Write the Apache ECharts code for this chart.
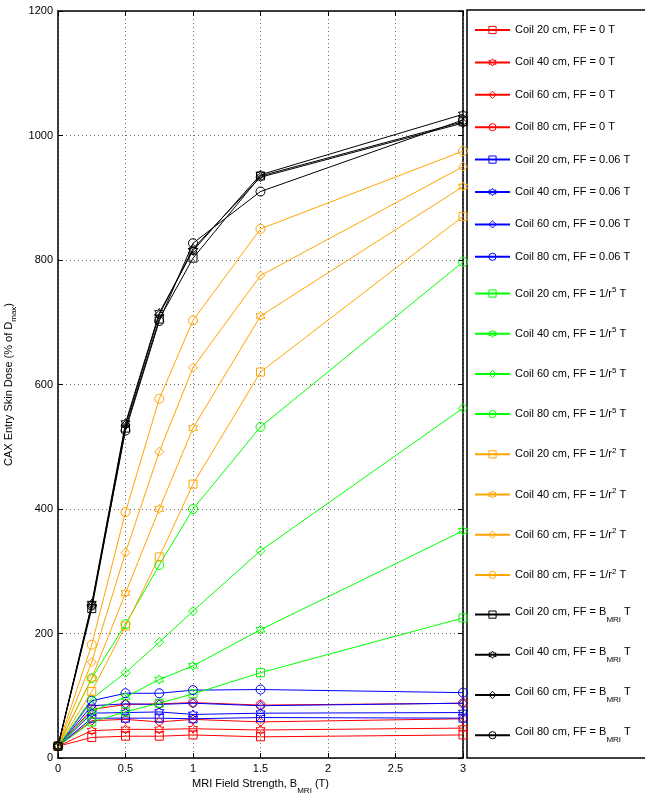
<!DOCTYPE html>
<html>
<head>
<meta charset="utf-8">
<script src="https://cdn.jsdelivr.net/npm/echarts@6/dist/echarts.min.js"></script>
<style>
html,body{margin:0;padding:0;background:#fff;}
#chart{width:645px;height:793px;}
</style>
</head>
<body>
<div id="chart"></div>
<script>
// ---- data ----
const fieldStrength = [0, 0.25, 0.5, 0.75, 1, 1.5, 3];
const xTicks = [0, 0.5, 1, 1.5, 2, 2.5, 3];
const yTicks = [0, 200, 400, 600, 800, 1000, 1200];

const ff0_coil20 = [19, 33, 35, 35, 37, 34, 37];
const ff0_coil40 = [19, 44, 46, 46, 47, 45, 48];
const ff0_coil60 = [19, 60, 62, 58, 62, 58, 63];
const ff0_coil80 = [19, 78, 86, 87, 89, 85, 88];

const ff006_coil20 = [19, 64, 64, 64, 63, 65, 64];
const ff006_coil40 = [19, 72, 73, 74, 70, 72, 73];
const ff006_coil60 = [19, 84, 87, 86, 88, 84, 88];
const ff006_coil80 = [19, 92, 104, 104, 109, 110, 105];

const ffr5_coil20 = [19, 58, 74, 88, 103, 137, 225];
const ffr5_coil40 = [19, 75, 98, 126, 148, 206, 365];
const ffr5_coil60 = [19, 95, 137, 186, 236, 333, 562];
const ffr5_coil80 = [19, 128, 215, 310, 400, 532, 797];

const ffr2_coil20 = [19, 107, 212, 323, 440, 620, 870];
const ffr2_coil40 = [19, 128, 265, 400, 530, 710, 918];
const ffr2_coil60 = [19, 154, 330, 492, 627, 775, 950];
const ffr2_coil80 = [19, 182, 395, 577, 703, 850, 975];

const ffB_coil20 = [19, 240, 530, 705, 803, 935, 1022];
const ffB_coil40 = [19, 248, 538, 715, 815, 937, 1034];
const ffB_coil60 = [19, 245, 535, 712, 818, 933, 1020];
const ffB_coil80 = [19, 245, 526, 702, 827, 910, 1025];

const coilSizes = ['20', '40', '60', '80'];
const ffLabels = ['0', '0.06', '1/r^5', '1/r^2', 'B_MRI'];
const seriesValues = [
  [ff0_coil20, ff0_coil40, ff0_coil60, ff0_coil80],
  [ff006_coil20, ff006_coil40, ff006_coil60, ff006_coil80],
  [ffr5_coil20, ffr5_coil40, ffr5_coil60, ffr5_coil80],
  [ffr2_coil20, ffr2_coil40, ffr2_coil60, ffr2_coil80],
  [ffB_coil20, ffB_coil40, ffB_coil60, ffB_coil80]
];

// ---- styles ----
const colors = ['#ff0000', '#0000ff', '#00ff00', '#ffa500', '#000000'];
const STAR = 'path://M0,-10L2.9,-5L8.66,-5L5.8,0L8.66,5L2.9,5L0,10L-2.9,5L-8.66,5L-5.8,0L-8.66,-5L-2.9,-5Z';
const symbols = ['rect', STAR, 'diamond', 'circle'];
const symbolSizes = [8, 9, 9, 9];
const FONT = 'Liberation Sans, Arial, Helvetica, sans-serif';

const series = [];
ffLabels.forEach((ff, fi) => {
  coilSizes.forEach((c, ci) => {
    series.push({
      name: 'Coil ' + c + ' cm, FF = ' + ff + ' T',
      type: 'line',
      xAxisIndex: 0,
      yAxisIndex: 0,
      data: fieldStrength.map((x, k) => [x, seriesValues[fi][ci][k]]),
      symbol: symbols[ci],
      symbolSize: symbolSizes[ci],
      showAllSymbol: true,
      lineStyle: { color: colors[fi], width: 1 },
      itemStyle: { color: 'rgba(0,0,0,0)', borderColor: colors[fi], borderWidth: 1 },
      emphasis: { disabled: true },
      animation: false
    });
  });
});

function kindOf(name) {
  if (/\^\d/.test(name)) return 'sup';
  if (/_MRI/.test(name)) return 'sub';
  return 'plain';
}
function legendFmt(name) {
  let m = name.match(/^(.*)\^(\d)(.*)$/);
  if (m) return '{p|' + m[1] + '}{sup|' + m[2] + '}{p|' + m[3] + '}';
  m = name.match(/^(.*)_MRI(.*)$/);
  if (m) return '{pb|' + m[1] + '}{sub|MRI}{pb|' + m[2] + '}';
  return '{q|' + name + '}';
}
const legendRich = {
  q: { fontSize: 11, lineHeight: 14, color: '#000', fontFamily: FONT },
  p: { fontSize: 11, lineHeight: 14, color: '#000', fontFamily: FONT },
  sup: { fontSize: 8, lineHeight: 8, padding: [0, 0, 7, 0], color: '#000', fontFamily: FONT },
  pb: { fontSize: 11, lineHeight: 14, color: '#000', fontFamily: FONT, padding: [0, 0, 6, 0] },
  sub: { fontSize: 8, lineHeight: 8, padding: [10, 0, 0, 0], color: '#000', fontFamily: FONT }
};
// legend item centres (pixels)
const legendOffset = { plain: 5.5, sup: 8, sub: 10 };
const legends = series.map((s, i) => {
  const centre = i < 8 ? 30 + 32.4 * i : 294 + 40.2 * (i - 8);
  return {
    orient: 'vertical',
    left: 474,
    top: centre - legendOffset[kindOf(s.name)],
    padding: 0,
    itemWidth: 35,
    itemHeight: 9,
    selectedMode: false,
    formatter: legendFmt,
    itemStyle: { color: 'rgba(0,0,0,0)', borderWidth: 1 },
    textStyle: { color: '#000', fontFamily: FONT, fontSize: 11, rich: legendRich },
    data: [s.name]
  };
});

const axisCommonX = {
  type: 'value', min: 0, max: 3, interval: 0.5,
  axisLine: { show: true, onZero: false, lineStyle: { color: '#000', width: 1.5 } },
  axisTick: { show: true, inside: true, length: 5, lineStyle: { color: '#000' } }
};
const axisCommonY = {
  type: 'value', min: 0, max: 1200, interval: 200,
  axisLine: { show: true, onZero: false, lineStyle: { color: '#000', width: 1.5 } },
  axisTick: { show: true, inside: true, length: 5, lineStyle: { color: '#000' } }
};

const chart = echarts.init(document.getElementById('chart'), null, { renderer: 'canvas' });
chart.setOption({
  animation: false,
  backgroundColor: '#fff',
  textStyle: { fontFamily: FONT },
  grid: { left: 58, right: 182, top: 11, bottom: 35, containLabel: false, outerBoundsMode: 'none' },
  xAxis: [
    Object.assign({}, axisCommonX, {
      position: 'bottom',
      axisLabel: { color: '#000', fontSize: 11, fontFamily: FONT, margin: 5,
        formatter: v => (xTicks.indexOf(v) >= 0 ? String(v) : '') },
      splitLine: { show: true, lineStyle: { color: '#444', width: 0.8, type: [1, 3] } },
      name: '{a|MRI Field Strength, B}{s|MRI}{a| (T)}',
      nameLocation: 'middle',
      nameGap: 10,
      nameTextStyle: {
        color: '#000', fontFamily: FONT,
        rich: {
          a: { fontSize: 11, lineHeight: 12, verticalAlign: 'top', color: '#000', fontFamily: FONT },
          s: { fontSize: 8, lineHeight: 8, padding: [8, 0, 0, 0], verticalAlign: 'top', color: '#000', fontFamily: FONT }
        }
      }
    }),
    Object.assign({}, axisCommonX, {
      position: 'top',
      axisLabel: { show: false },
      splitLine: { show: false }
    })
  ],
  yAxis: [
    Object.assign({}, axisCommonY, {
      position: 'left',
      axisLabel: { color: '#000', fontSize: 11, fontFamily: FONT, margin: 5,
        formatter: v => (yTicks.indexOf(v) >= 0 ? String(v) : '') },
      splitLine: { show: true, lineStyle: { color: '#444', width: 0.8, type: [1, 3] } },
      name: '{a|CAX Entry Skin Dose (% of D}{s|max}{a|)}',
      nameLocation: 'middle',
      nameRotate: 90,
      nameGap: 38,
      nameTextStyle: {
        color: '#000', fontFamily: FONT,
        rich: {
          a: { fontSize: 11, lineHeight: 12, verticalAlign: 'top', color: '#000', fontFamily: FONT },
          s: { fontSize: 8, lineHeight: 8, padding: [6, 0, 0, 0], verticalAlign: 'top', color: '#000', fontFamily: FONT }
        }
      }
    }),
    Object.assign({}, axisCommonY, {
      position: 'right',
      axisLabel: { show: false },
      splitLine: { show: false }
    })
  ],
  legend: legends,
  graphic: [{
    type: 'rect',
    shape: { x: 467, y: 10, width: 200, height: 748 },
    style: { fill: 'none', stroke: '#000', lineWidth: 1.5 },
    silent: true,
    z: 0
  }],
  series: series
});
</script>
</body>
</html>
